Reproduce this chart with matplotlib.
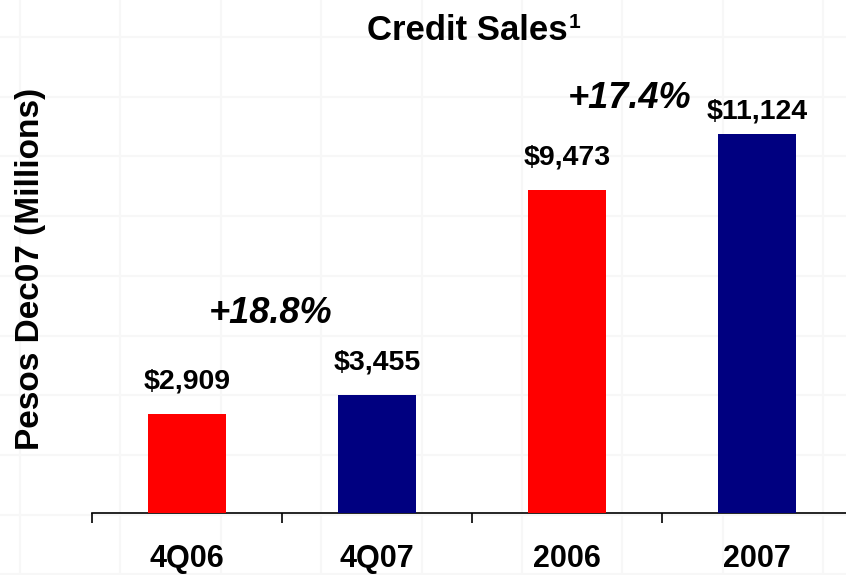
import numpy as np
import matplotlib
matplotlib.use('Agg')
import matplotlib.pyplot as plt

plt.rcParams['font.family'] = ['Liberation Sans', 'DejaVu Sans']
plt.rcParams['font.weight'] = 'bold'

##############
#chart values#
##############
categories = ['4Q06', '4Q07', '2006', '2007']
sales = [2909, 3455, 9473, 11124]
bar_colors = ['#ff0000', '#000080', '#ff0000', '#000080']
ylabel = 'Pesos Dec07 (Millions)'
title = 'Credit Sales'

fig = plt.figure(figsize=(8.46, 5.75), dpi=100)

# faint background tile grid
for gx in np.arange(20, 846, 100.4):
    fig.add_artist(plt.Line2D([gx / 846., gx / 846.], [0, 1], color='#f7f7f7', lw=1.5, zorder=0))
for gy in np.arange(37, 575, 59.7):
    fig.add_artist(plt.Line2D([0, 1], [1 - gy / 575., 1 - gy / 575.], color='#f7f7f7', lw=1.5, zorder=0))

ax = fig.add_axes([92 / 846., 62 / 575., 760 / 846., 477 / 575.])
ax.patch.set_alpha(0)
x = np.arange(len(categories))
ax.bar(x, sales, width=0.41, color=bar_colors, zorder=3)
ax.set_xlim(-0.5, 3.5)
ax.set_ylim(0, 14000)

for s in ['top', 'right', 'left']:
    ax.spines[s].set_visible(False)
ax.spines['bottom'].set_linewidth(1.2)
ax.set_yticks([])

# tick marks between the categories, labels centred under the bars
ax.set_xticks(np.arange(-0.5, 4, 1))
ax.set_xticklabels([])
ax.tick_params(axis='x', which='major', direction='out', length=7.5, width=1.2, color='black')
ax.set_xticks(x, minor=True)
ax.set_xticklabels(categories, minor=True, fontsize=22, fontweight='bold')
ax.tick_params(axis='x', which='minor', length=0, pad=22)

# value labels over each bar
gaps = [14, 14, 14, 7]
for xi, v, g in zip(x, sales, gaps):
    ax.annotate('${:,}'.format(v), xy=(xi, v), xytext=(0, g), textcoords='offset points',
                ha='center', va='bottom', fontsize=20.5, fontweight='bold')

# growth between quarters and between years
g1 = (sales[1] / sales[0] - 1) * 100
g2 = (sales[3] / sales[2] - 1) * 100
ax.text(0.44, 5870, '+%.1f%%' % g1, ha='center', va='center', fontsize=26,
        fontweight='bold', fontstyle='italic')
ax.text(2.33, 12170, '+%.1f%%' % g2, ha='center', va='center', fontsize=26,
        fontweight='bold', fontstyle='italic')

t = fig.text(467 / 846., 1 - 30 / 575., title, ha='center', va='center', fontsize=25, fontweight='bold')
ax.annotate('1', xy=(1, 1), xycoords=t, xytext=(1, 0), textcoords='offset points',
            ha='left', va='top', fontsize=15, fontweight='bold')

fig.text(30 / 846., 1 - 269 / 575., ylabel, rotation=90, ha='center', va='center',
         fontsize=24, fontweight='bold')

plt.savefig('out.png', dpi=100)
